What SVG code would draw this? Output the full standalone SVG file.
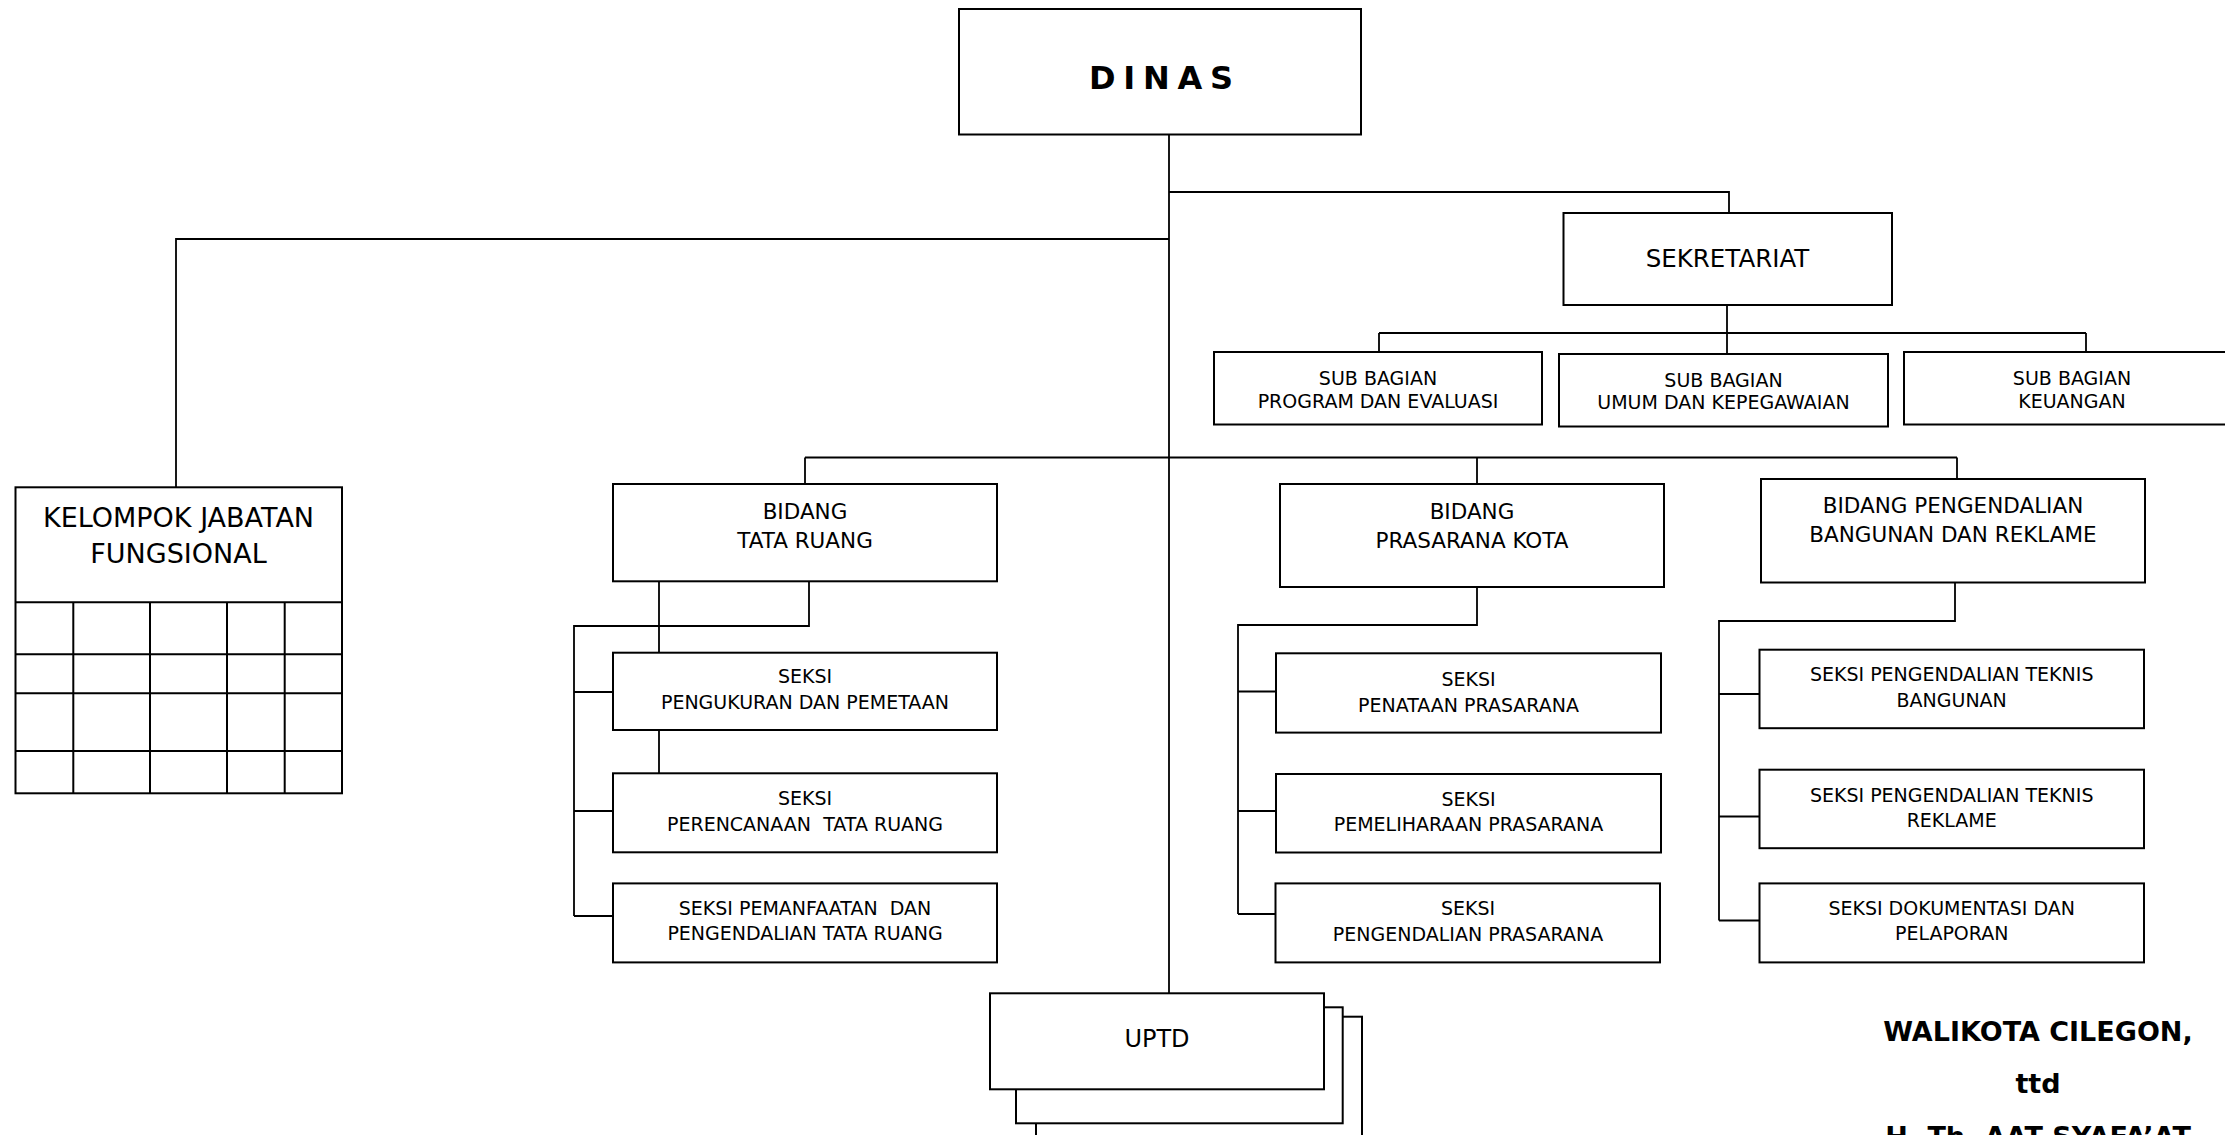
<svg xmlns="http://www.w3.org/2000/svg" width="2225" height="1135" viewBox="0 0 2225 1135">
<style>
  .bg{fill:#fff}
  .box{fill:#fff;stroke:#000;stroke-width:2}
  .ln{fill:none;stroke:#000;stroke-width:1.8}
  text{font-family:"DejaVu Sans","Liberation Sans",sans-serif;fill:#000;text-anchor:middle}
  .t19{font-size:19px}
  .t21{font-size:21.5px}
  .t24{font-size:24.5px}
  .t27{font-size:27px}
  .b{font-weight:bold}
</style>
<rect class="bg" x="0" y="0" width="2225" height="1135"/>

<g id="connectors">
  <path class="ln" d="M1169 134 V993"/>
  <path class="ln" d="M1169 192 H1729 V213"/>
  <path class="ln" d="M1169 239 H176 V487"/>
  <path class="ln" d="M1727 305 V333 M1379 333 H2086 M1379 333 V352 M1727 333 V354 M2086 333 V352"/>
  <path class="ln" d="M805 457.5 H1957 M805 457.5 V484 M1477 457.5 V484 M1957 457.5 V479"/>
  <path class="ln" d="M809 581 V626 H574 V916 M574 692 H613 M574 811 H613 M574 916 H613 M659 581 V653 M659 730 V773"/>
  <path class="ln" d="M1477 587 V625 H1238 V914 M1238 691.5 H1276 M1238 811 H1276 M1238 914 H1276"/>
  <path class="ln" d="M1955 582.5 V621 H1719 V920.5 M1719 694 H1759 M1719 816.5 H1759 M1719 920.5 H1759"/>
</g>

<g id="dinas">
  <rect class="box" x="959" y="9" width="402" height="125.5"/>
  <text class="b" x="1161" y="88.5" font-size="32" textLength="144" lengthAdjust="spacing">D I N A S</text>
</g>

<g id="sekretariat">
  <rect class="box" x="1563.5" y="213" width="328.5" height="92"/>
  <text class="t24" x="1727.5" y="266.5">SEKRETARIAT</text>
</g>

<g id="subbag-program">
  <rect class="box" x="1214" y="352" width="328" height="72.5"/>
  <text class="t19" x="1378" y="385">SUB BAGIAN</text>
  <text class="t19" x="1378" y="407.7">PROGRAM DAN EVALUASI</text>
</g>
<g id="subbag-umum">
  <rect class="box" x="1559" y="354" width="329" height="72.5"/>
  <text class="t19" x="1723.5" y="386.5">SUB BAGIAN</text>
  <text class="t19" x="1723.5" y="409">UMUM DAN KEPEGAWAIAN</text>
</g>
<g id="subbag-keuangan">
  <rect class="box" x="1904" y="352" width="336" height="72.5"/>
  <text class="t19" x="2072" y="385">SUB BAGIAN</text>
  <text class="t19" x="2072" y="407.7">KEUANGAN</text>
</g>

<g id="kelompok">
  <rect class="box" x="15.5" y="487.3" width="326.5" height="306"/>
  <path class="ln" d="M15.5 602.3 H342 M15.5 654.3 H342 M15.5 693.3 H342 M15.5 751 H342 M73.3 602.3 V793.3 M150 602.3 V793.3 M227 602.3 V793.3 M284.7 602.3 V793.3" style="stroke-width:2"/>
  <text class="t27" x="178.5" y="526.7">KELOMPOK JABATAN</text>
  <text class="t27" x="178.5" y="562.7">FUNGSIONAL</text>
</g>

<g id="bidang-tata-ruang">
  <rect class="box" x="613" y="484" width="384" height="97.3"/>
  <text class="t21" x="805" y="519">BIDANG</text>
  <text class="t21" x="805" y="547.7">TATA RUANG</text>
</g>
<g id="bidang-prasarana">
  <rect class="box" x="1280" y="484" width="384" height="103"/>
  <text class="t21" x="1472" y="518.5">BIDANG</text>
  <text class="t21" x="1472" y="547.5">PRASARANA KOTA</text>
</g>
<g id="bidang-pengendalian">
  <rect class="box" x="1761" y="479" width="384" height="103.5"/>
  <text class="t21" x="1953" y="513.3">BIDANG PENGENDALIAN</text>
  <text class="t21" x="1953" y="542.4">BANGUNAN DAN REKLAME</text>
</g>

<g id="seksi-pengukuran">
  <rect class="box" x="613" y="652.7" width="384" height="77.3"/>
  <text class="t19" x="805" y="682.7">SEKSI</text>
  <text class="t19" x="805" y="709.3">PENGUKURAN DAN PEMETAAN</text>
</g>
<g id="seksi-perencanaan">
  <rect class="box" x="613" y="773.3" width="384" height="79"/>
  <text class="t19" x="805" y="805.3">SEKSI</text>
  <text class="t19" x="805" y="831.1" xml:space="preserve">PERENCANAAN  TATA RUANG</text>
</g>
<g id="seksi-pemanfaatan">
  <rect class="box" x="613" y="883.4" width="384" height="79"/>
  <text class="t19" x="805" y="914.7" xml:space="preserve">SEKSI PEMANFAATAN  DAN</text>
  <text class="t19" x="805" y="940.1">PENGENDALIAN TATA RUANG</text>
</g>

<g id="seksi-penataan">
  <rect class="box" x="1276" y="653.3" width="385" height="79.3"/>
  <text class="t19" x="1468.5" y="686">SEKSI</text>
  <text class="t19" x="1468.5" y="711.5">PENATAAN PRASARANA</text>
</g>
<g id="seksi-pemeliharaan">
  <rect class="box" x="1276" y="774" width="385" height="78.5"/>
  <text class="t19" x="1468.5" y="805.6">SEKSI</text>
  <text class="t19" x="1468.5" y="831.4">PEMELIHARAAN PRASARANA</text>
</g>
<g id="seksi-pengendalian-prasarana">
  <rect class="box" x="1275.5" y="883.4" width="384.5" height="79"/>
  <text class="t19" x="1468" y="914.7">SEKSI</text>
  <text class="t19" x="1468" y="940.5">PENGENDALIAN PRASARANA</text>
</g>

<g id="seksi-teknis-bangunan">
  <rect class="box" x="1759.5" y="649.7" width="384.5" height="78.5"/>
  <text class="t19" x="1951.7" y="681.3">SEKSI PENGENDALIAN TEKNIS</text>
  <text class="t19" x="1951.7" y="706.8">BANGUNAN</text>
</g>
<g id="seksi-teknis-reklame">
  <rect class="box" x="1759.5" y="769.7" width="384.5" height="78.5"/>
  <text class="t19" x="1951.7" y="802">SEKSI PENGENDALIAN TEKNIS</text>
  <text class="t19" x="1951.7" y="826.7">REKLAME</text>
</g>
<g id="seksi-dokumentasi">
  <rect class="box" x="1759.5" y="883.4" width="384.5" height="79"/>
  <text class="t19" x="1951.7" y="914.7">SEKSI DOKUMENTASI DAN</text>
  <text class="t19" x="1951.7" y="940">PELAPORAN</text>
</g>

<g id="uptd">
  <rect class="box" x="1036" y="1016.7" width="326" height="140"/>
  <rect class="box" x="1016" y="1007.3" width="326.7" height="116"/>
  <rect class="box" x="990" y="993.3" width="334" height="96"/>
  <text x="1157" y="1047" font-size="24">UPTD</text>
</g>

<g id="signature">
  <text class="b t27" x="2038" y="1041">WALIKOTA CILEGON,</text>
  <text class="b t27" x="2038" y="1092.7">ttd</text>
  <text class="b t27" x="2038" y="1145.5">H. Th. AAT SYAFA’AT</text>
</g>
</svg>
